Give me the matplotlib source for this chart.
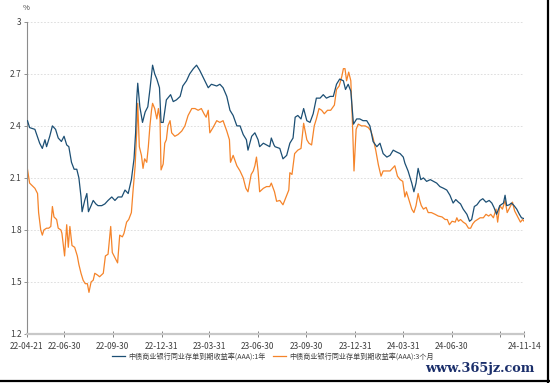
import pandas as pd
import matplotlib
matplotlib.use("Agg")
import matplotlib.pyplot as plt
from matplotlib.lines import Line2D

plt.rcParams['font.family'] = ['Noto Sans CJK SC', 'DejaVu Sans']

# 1Y yield
dates_1y = [
    '2022-04-22', '2022-04-26', '2022-05-06', '2022-05-15', '2022-05-20', '2022-05-25', '2022-05-28',
    '2022-06-03', '2022-06-08', '2022-06-14', '2022-06-19', '2022-06-25', '2022-06-30', '2022-07-05',
    '2022-07-09', '2022-07-14', '2022-07-19', '2022-07-24', '2022-07-28', '2022-08-01', '2022-08-03',
    '2022-08-08', '2022-08-12', '2022-08-15', '2022-08-20', '2022-08-24', '2022-08-29', '2022-09-02',
    '2022-09-09', '2022-09-15', '2022-09-21', '2022-09-28', '2022-10-04', '2022-10-10', '2022-10-17',
    '2022-10-23', '2022-10-29', '2022-11-04', '2022-11-09', '2022-11-12', '2022-11-14', '2022-11-16',
    '2022-11-20', '2022-11-25', '2022-11-30', '2022-12-05', '2022-12-09', '2022-12-14', '2022-12-18',
    '2022-12-22', '2022-12-27', '2022-12-30', '2023-01-03', '2023-01-09', '2023-01-17', '2023-01-22',
    '2023-01-28', '2023-02-04', '2023-02-09', '2023-02-16', '2023-02-22', '2023-03-01', '2023-03-07',
    '2023-03-13', '2023-03-21', '2023-03-29', '2023-04-04', '2023-04-14', '2023-04-20', '2023-04-26',
    '2023-05-03', '2023-05-09', '2023-05-15', '2023-05-22', '2023-05-28', '2023-06-03', '2023-06-09',
    '2023-06-12', '2023-06-19', '2023-06-25', '2023-07-01', '2023-07-04', '2023-07-11', '2023-07-17',
    '2023-07-23', '2023-07-26', '2023-07-31', '2023-08-02', '2023-08-11', '2023-08-17', '2023-08-24',
    '2023-08-30', '2023-09-05', '2023-09-09', '2023-09-14', '2023-09-20', '2023-09-25', '2023-10-01',
    '2023-10-07', '2023-10-13', '2023-10-19', '2023-10-26', '2023-11-01', '2023-11-07', '2023-11-14',
    '2023-11-20', '2023-11-26', '2023-12-02', '2023-12-09', '2023-12-13', '2023-12-18', '2023-12-23',
    '2023-12-28', '2024-01-03', '2024-01-09', '2024-01-15', '2024-01-22', '2024-01-28', '2024-02-03',
    '2024-02-10', '2024-02-16', '2024-02-22', '2024-02-29', '2024-03-06', '2024-03-12', '2024-03-18',
    '2024-03-25', '2024-03-31', '2024-04-03', '2024-04-09', '2024-04-16', '2024-04-20', '2024-04-24',
    '2024-04-28', '2024-05-03', '2024-05-08', '2024-05-14', '2024-05-21', '2024-05-27', '2024-06-02',
    '2024-06-08', '2024-06-15', '2024-06-21', '2024-06-27', '2024-07-03', '2024-07-08', '2024-07-13',
    '2024-07-17', '2024-07-22', '2024-07-29', '2024-08-03', '2024-08-07', '2024-08-12', '2024-08-17',
    '2024-08-23', '2024-08-28', '2024-09-03', '2024-09-09', '2024-09-14', '2024-09-18', '2024-09-23',
    '2024-09-29', '2024-10-06', '2024-10-09', '2024-10-12', '2024-10-17', '2024-10-21', '2024-10-26',
    '2024-10-31', '2024-11-05', '2024-11-09', '2024-11-14',
]
yield_1y = [
    2.43, 2.39, 2.38, 2.30, 2.27, 2.32, 2.28,
    2.34, 2.40, 2.38, 2.33, 2.31, 2.34, 2.29,
    2.28, 2.19, 2.15, 2.15, 2.10, 1.99, 1.905,
    1.97, 2.01, 1.905, 1.94, 1.97, 1.95, 1.94,
    1.94, 1.95, 1.97, 1.99, 1.97, 1.99, 1.99,
    2.03, 2.01, 2.09, 2.21, 2.36, 2.55, 2.646,
    2.51, 2.42, 2.48, 2.51, 2.61, 2.75, 2.70,
    2.67, 2.62, 2.42, 2.42, 2.55, 2.58, 2.54,
    2.55, 2.57, 2.63, 2.66, 2.70, 2.73, 2.75,
    2.72, 2.67, 2.62, 2.64, 2.63, 2.64, 2.62,
    2.57, 2.49, 2.46, 2.40, 2.40, 2.35, 2.32,
    2.26, 2.34, 2.36, 2.32, 2.28, 2.30, 2.29,
    2.28, 2.33, 2.29, 2.28, 2.27, 2.21, 2.23,
    2.30, 2.33, 2.45, 2.46, 2.44, 2.50, 2.43,
    2.42, 2.47, 2.56, 2.56, 2.58, 2.56, 2.57,
    2.57, 2.64, 2.67, 2.66, 2.61, 2.64, 2.60,
    2.41, 2.44, 2.44, 2.43, 2.43, 2.40, 2.31,
    2.28, 2.30, 2.24, 2.22, 2.23, 2.26, 2.25,
    2.24, 2.22, 2.185, 2.14, 2.07, 2.02, 2.07,
    2.155, 2.09, 2.10, 2.08, 2.09, 2.08, 2.07,
    2.05, 2.04, 2.03, 2.00, 1.955, 1.975, 1.96,
    1.95, 1.92, 1.89, 1.85, 1.86, 1.935, 1.945,
    1.97, 1.98, 1.96, 1.97, 1.955, 1.93, 1.89,
    1.94, 1.955, 2.00, 1.94, 1.945, 1.955, 1.94,
    1.92, 1.89, 1.87, 1.865,
]

# 3M yield
dates_3m = [
    '2022-04-22', '2022-04-26', '2022-05-06', '2022-05-11', '2022-05-13', '2022-05-17', '2022-05-20',
    '2022-05-23', '2022-05-28', '2022-06-01', '2022-06-05', '2022-06-08', '2022-06-11', '2022-06-16',
    '2022-06-19', '2022-06-24', '2022-06-26', '2022-07-01', '2022-07-05', '2022-07-08', '2022-07-11',
    '2022-07-15', '2022-07-20', '2022-07-25', '2022-07-28', '2022-08-01', '2022-08-05', '2022-08-09',
    '2022-08-13', '2022-08-16', '2022-08-20', '2022-08-24', '2022-08-27', '2022-09-01', '2022-09-05',
    '2022-09-12', '2022-09-16', '2022-09-21', '2022-09-26', '2022-09-29', '2022-10-04', '2022-10-09',
    '2022-10-13', '2022-10-18', '2022-10-21', '2022-10-26', '2022-10-30', '2022-11-04', '2022-11-07',
    '2022-11-11', '2022-11-14', '2022-11-16', '2022-11-19', '2022-11-23', '2022-11-26', '2022-11-29',
    '2022-12-03', '2022-12-06', '2022-12-09', '2022-12-12', '2022-12-14', '2022-12-18', '2022-12-22',
    '2022-12-25', '2022-12-28', '2022-12-30', '2023-01-03', '2023-01-06', '2023-01-09', '2023-01-12',
    '2023-01-16', '2023-01-19', '2023-01-25', '2023-01-31', '2023-02-07', '2023-02-13', '2023-02-19',
    '2023-02-26', '2023-03-04', '2023-03-10', '2023-03-16', '2023-03-21', '2023-03-25', '2023-03-29',
    '2023-04-01', '2023-04-07', '2023-04-14', '2023-04-20', '2023-04-26', '2023-05-03', '2023-05-08',
    '2023-05-10', '2023-05-15', '2023-05-22', '2023-05-28', '2023-06-03', '2023-06-08', '2023-06-12',
    '2023-06-18', '2023-06-22', '2023-06-25', '2023-06-28', '2023-07-01', '2023-07-04', '2023-07-11',
    '2023-07-17', '2023-07-23', '2023-07-26', '2023-08-01', '2023-08-05', '2023-08-11', '2023-08-17',
    '2023-08-24', '2023-08-28', '2023-08-30', '2023-09-03', '2023-09-08', '2023-09-14', '2023-09-20',
    '2023-09-25', '2023-10-01', '2023-10-05', '2023-10-10', '2023-10-15', '2023-10-19', '2023-10-24',
    '2023-10-29', '2023-11-03', '2023-11-09', '2023-11-15', '2023-11-22', '2023-11-26', '2023-12-01',
    '2023-12-06', '2023-12-09', '2023-12-12', '2023-12-15', '2023-12-19', '2023-12-23', '2023-12-26',
    '2023-12-29', '2024-01-02', '2024-01-06', '2024-01-12', '2024-01-19', '2024-01-25', '2024-01-30',
    '2024-02-03', '2024-02-08', '2024-02-13', '2024-02-18', '2024-02-22', '2024-02-29', '2024-03-06',
    '2024-03-12', '2024-03-15', '2024-03-20', '2024-03-25', '2024-03-30', '2024-04-03', '2024-04-06',
    '2024-04-11', '2024-04-16', '2024-04-20', '2024-04-24', '2024-04-28', '2024-05-01', '2024-05-04',
    '2024-05-08', '2024-05-13', '2024-05-17', '2024-05-23', '2024-05-30', '2024-06-05', '2024-06-12',
    '2024-06-18', '2024-06-22', '2024-06-26', '2024-07-01', '2024-07-07', '2024-07-10', '2024-07-13',
    '2024-07-17', '2024-07-22', '2024-07-27', '2024-08-01', '2024-08-05', '2024-08-09', '2024-08-13',
    '2024-08-18', '2024-08-23', '2024-08-29', '2024-09-03', '2024-09-08', '2024-09-12', '2024-09-17',
    '2024-09-22', '2024-09-25', '2024-09-29', '2024-10-04', '2024-10-09', '2024-10-13', '2024-10-18',
    '2024-10-23', '2024-10-27', '2024-11-02', '2024-11-07', '2024-11-11', '2024-11-14',
]
yield_3m = [
    2.15, 2.07, 2.04, 2.01, 1.90, 1.80, 1.77,
    1.80, 1.81, 1.81, 1.82, 1.935, 1.875, 1.86,
    1.81, 1.80, 1.78, 1.65, 1.83, 1.70, 1.82,
    1.71, 1.70, 1.65, 1.60, 1.55, 1.51, 1.49,
    1.49, 1.44, 1.50, 1.51, 1.55, 1.54, 1.53,
    1.55, 1.65, 1.66, 1.82, 1.67, 1.64, 1.61,
    1.77, 1.76, 1.78, 1.845, 1.86, 1.90, 2.02,
    2.165, 2.36, 2.53, 2.28, 2.23, 2.155, 2.21,
    2.19, 2.28, 2.40, 2.49, 2.53, 2.50, 2.44,
    2.50, 2.44, 2.146, 2.18, 2.30, 2.32, 2.40,
    2.43, 2.36, 2.34, 2.35, 2.37, 2.40, 2.46,
    2.50, 2.50, 2.49, 2.50, 2.47, 2.45, 2.49,
    2.36, 2.39, 2.43, 2.42, 2.43, 2.37, 2.32,
    2.19, 2.23, 2.17, 2.14, 2.10, 2.04, 2.02,
    2.12, 2.14, 2.17, 2.22, 2.14, 2.02, 2.04,
    2.05, 2.05, 2.07, 2.02, 1.965, 1.97, 1.945,
    2.00, 2.03, 2.13, 2.12, 2.24, 2.26, 2.27,
    2.415, 2.32, 2.30, 2.29, 2.40, 2.44, 2.50,
    2.49, 2.47, 2.49, 2.49, 2.52, 2.61, 2.63,
    2.685, 2.73, 2.73, 2.66, 2.71, 2.66, 2.425,
    2.14, 2.38, 2.41, 2.40, 2.40, 2.39, 2.37,
    2.33, 2.26, 2.175, 2.11, 2.14, 2.14, 2.14,
    2.16, 2.17, 2.11, 2.09, 2.08, 1.99, 2.02,
    1.97, 1.92, 1.90, 1.94, 2.01, 1.97, 1.94,
    1.92, 1.93, 1.90, 1.90, 1.89, 1.88, 1.875,
    1.86, 1.86, 1.83, 1.85, 1.845, 1.87, 1.85,
    1.86, 1.845, 1.835, 1.81, 1.81, 1.835, 1.85,
    1.86, 1.87, 1.87, 1.89, 1.88, 1.89, 1.87,
    1.92, 1.845, 1.94, 1.92, 1.97, 1.90, 1.93,
    1.96, 1.91, 1.875, 1.845, 1.86, 1.85,
]

series_names = ['中债商业银行同业存单到期收益率(AAA):1年', '中债商业银行同业存单到期收益率(AAA):3个月']
series_colors = ['#1c4f74', '#f5842a']

tick_dates = ['2022-04-21', '2022-06-30', '2022-09-30', '2022-12-31', '2023-03-31', '2023-06-30',
              '2023-09-30', '2023-12-31', '2024-03-31', '2024-06-30', '2024-09-30', '2024-11-14']
tick_labels = ['22-04-21', '22-06-30', '22-09-30', '22-12-31', '23-03-31', '23-06-30',
               '23-09-30', '23-12-31', '24-03-31', '24-06-30', '', '24-11-14']
y_ticks = [1.2, 1.5, 1.8, 2.1, 2.4, 2.7, 3.0]
y_labels = ['1.2', '1.5', '1.8', '2.1', '2.4', '2.7', '3']

fig = plt.figure(figsize=(5.5, 3.83), dpi=100)
ax = fig.add_axes([0.049, 0.128, 0.904, 0.815])

ax.plot(pd.to_datetime(dates_1y), yield_1y, color=series_colors[0], lw=0.9, label=series_names[0], zorder=3)
ax.plot(pd.to_datetime(dates_3m), yield_3m, color=series_colors[1], lw=0.9, label=series_names[1], zorder=2)

ax.set_xlim(pd.Timestamp(tick_dates[0]), pd.Timestamp(tick_dates[-1]))
ax.set_ylim(1.2, 3.0)
ax.set_xticks(pd.to_datetime(tick_dates))
ax.set_xticklabels(tick_labels)
ax.set_yticks(y_ticks)
ax.set_yticklabels(y_labels)

for v in y_ticks[1:]:
    ax.axhline(v, color='#d9d9d9', lw=0.6, ls=(0, (2, 2)), zorder=1)

for s in ['top', 'right']:
    ax.spines[s].set_visible(False)
ax.spines['left'].set_color('#8c8c8c')
ax.spines['left'].set_linewidth(0.8)
ax.spines['bottom'].set_color('#c8c8c8')
ax.spines['bottom'].set_linewidth(1.6)

ax.tick_params(axis='x', direction='inout', length=5, width=0.7, color='#808080',
               labelsize=6, labelcolor='#404040', pad=3)
ax.tick_params(axis='y', direction='out', length=2, width=0.6, color='#808080',
               labelsize=6, labelcolor='#404040', pad=2)

ax.text(-0.002, 1.03, '%', transform=ax.transAxes, fontsize=5.5, color='#404040', ha='center', va='bottom')

fig.legend(loc='center', bbox_to_anchor=(0.496, 0.068), ncol=2, frameon=False,
           fontsize=5.1, handlelength=1.9, columnspacing=1.0, handletextpad=0.4,
           labelcolor='#404040')

# watermark
fig.text(0.773, 0.037, 'www.365jz.com', family='DejaVu Serif', fontweight='bold',
         fontsize=9.3, color='#1b2f6b', ha='left', va='center')

# black frame on the right and bottom edges
fig.add_artist(Line2D([0.9965, 0.9965], [0, 1], transform=fig.transFigure, color='black', lw=1.6))
fig.add_artist(Line2D([0, 1], [0.004, 0.004], transform=fig.transFigure, color='black', lw=1.6))

fig.savefig('out.png', dpi=100)
